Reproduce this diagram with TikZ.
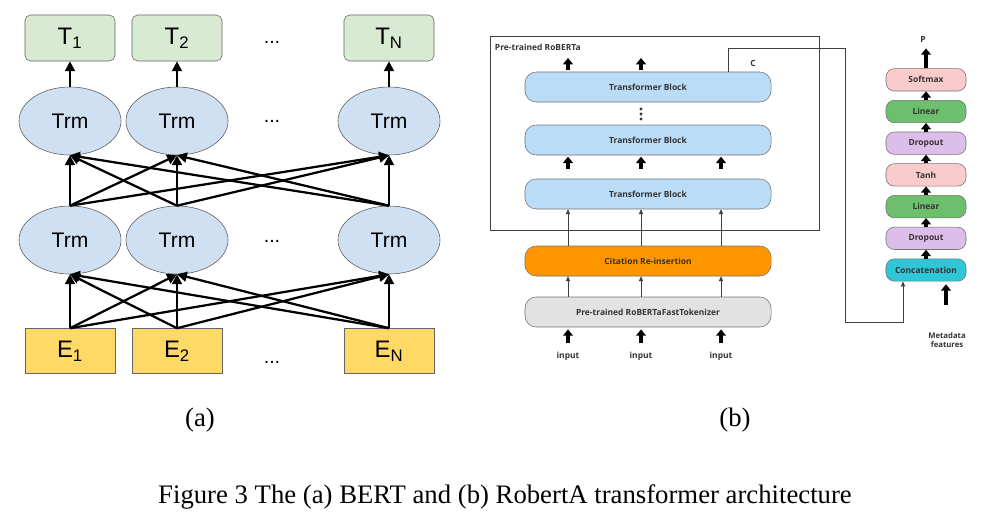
\documentclass[tikz,border=0pt]{standalone}
\usepackage{xcolor}
\usepackage{fontspec}
\setmainfont{Liberation Serif}
\newfontfamily\arialfont{Liberation Sans}
\newfontfamily\osfont{Open Sans}
\usepackage{tikz}
\usetikzlibrary{positioning, shapes, calc, arrows.meta}

\definecolor{tgreen}{HTML}{D9EAD3}
\definecolor{trmblue}{HTML}{CFE0F3}
\definecolor{eyellow}{HTML}{FFD966}
\definecolor{tbblue}{HTML}{BBDCF7}
\definecolor{corange}{HTML}{FF9600}
\definecolor{tokgray}{HTML}{E2E2E2}
\definecolor{cpink}{HTML}{F9CBCB}
\definecolor{cgreen}{HTML}{6DBF6D}
\definecolor{cpurple}{HTML}{DDBDEA}
\definecolor{ccyan}{HTML}{2FC6D8}

\tikzset{
	tbox/.style={draw=black!60, fill=tgreen, rounded corners=4pt, minimum width=2.25cm, minimum height=1.15cm, font=\arialfont\fontsize{17}{17}\selectfont},
	trm/.style={ellipse, draw=black!65, fill=trmblue, minimum width=2.55cm, minimum height=1.7cm, inner sep=0pt, font=\arialfont\fontsize{15}{15}\selectfont},
	ebox/.style={draw=black!60, fill=eyellow, minimum width=2.25cm, minimum height=1.125cm, font=\arialfont\fontsize{17}{17}\selectfont},
	bigarrow/.style={-{Triangle[length=7pt, width=7pt]}, line width=1.6pt},
	tblock/.style={draw=black!55, fill=tbblue, rounded corners=8pt, minimum width=6.15cm, minimum height=0.75cm, text=black!80, font=\osfont\bfseries\fontsize{6}{7}\selectfont},
	hbox/.style={draw=black!55, rounded corners=6pt, minimum width=2cm, minimum height=0.56cm, inner xsep=1pt, text=black!80, font=\osfont\bfseries\fontsize{6}{7}\selectfont},
	fatup/.style={-{Triangle[length=4.5pt, width=7pt]}, line width=2.2pt},
	thinup/.style={-{Triangle[length=3.5pt, width=3pt]}, line width=0.5pt, draw=black!75},
	small/.style={text=black!80, font=\osfont\bfseries\fontsize{6}{7}\selectfont},
	caption/.style={font=\fontsize{19}{19}\selectfont}
}

\begin{document}
\begin{tikzpicture}[x=0.025cm, y=-0.025cm]

	\useasboundingbox (0,0) rectangle (988,527);

	\foreach \i/\x/\s in {1/70/1, 2/177/2, 3/389/N}
	{
	\node [tbox] (t\i) at (\x,38) {T\textsubscript{\s}};
	\node [trm] (u\i) at (\x,121) {Trm};
	\node [trm] (l\i) at (\x,240) {Trm};
	\node [ebox] (e\i) at (\x,351) {E\textsubscript{\s}};
	\draw [bigarrow] (u\i.north) -- (t\i.south);
	}
	\foreach \i in {1,2,3}
	\foreach \j in {1,2,3}
	{
	\draw [bigarrow] (l\i.north) -- (u\j.south);
	\draw [bigarrow] (e\i.north) -- (l\j.south);
	}
	\foreach \y [count=\n] in {42,121,241,362}
	\node [font=\arialfont\fontsize{14}{14}\selectfont] (dots\n) at (272,\y) {...};

	\node [draw=black!75, line width=0.6pt, minimum width=8.225cm, minimum height=4.85cm] (rob) at (654.5,133) {};
	\node [small, anchor=west] (robl) at (490,47) {Pre-trained RoBERTa};
	\foreach \k/\y in {1/87, 2/140, 3/194}
	\node [tblock] (tb\k) at (648,\y) {Transformer Block};
	\node [tblock, fill=corange] (cit) at (648,261) {Citation Re-insertion};
	\node [tblock, fill=tokgray] (tok) at (648,312) {Pre-trained RoBERTaFastTokenizer};
	\foreach \d in {109,114,119}
	\fill [black!80] (641,\d) circle (1.6);
	\node [small] (clab) at (753,63) {C};

	\foreach \i/\x in {1/568, 2/641, 3/721}
	{
	\coordinate (c\i) at (\x,0);
	\coordinate (ia\i) at (\x,343);
	\coordinate (oa\i) at (\x,58);
	\node [small] (in\i) at (\x,356) {input};
	\draw [fatup, shorten >=1.5pt] (ia\i) -- (tok.south -| c\i);
	\draw [thinup] (tok.north -| c\i) -- (cit.south -| c\i);
	\draw [thinup] (cit.north -| c\i) -- (tb3.south -| c\i);
	\draw [fatup, shorten <=7pt, shorten >=1pt] (tb3.north -| c\i) -- (tb2.south -| c\i);
	}
	\foreach \i in {1,2}
	\draw [fatup, shorten <=1.5pt] (tb1.north -| c\i) -- (oa\i);

	\foreach \k/\t/\c in {0/Concatenation/ccyan, 1/Dropout/cpurple, 2/Linear/cgreen, 3/Tanh/cpink, 4/Dropout/cpurple, 5/Linear/cgreen, 6/Softmax/cpink}
	\node [hbox, fill=\c] (h\k) at (926,270-31.7*\k) {\t};
	\foreach \k [count=\n from 1] in {0,...,5}
	\draw [fatup] (h\k.north) -- (h\n.south);
	\node [small] (p) at (923,39) {P};
	\draw [fatup, shorten >=1pt] (h6.north) -- (h6.north |- p.south);
	\node [small, align=center, font=\osfont\bfseries\fontsize{5.5}{6.5}\selectfont] (meta) at (947,340) {Metadata\\features};
	\coordinate (mt) at (946,305);
	\draw [fatup, shorten >=2pt] (mt) -- (h0.south -| mt);

	\coordinate (cc) at (728,48);
	\coordinate (cr) at (845,322);
	\draw [thinup] (tb1.north -| cc) -- (cc) -| (cr) -| ($(h0.south)+(-23,0)$);

	\node [caption] (capa) at (200,420) {(a)};
	\node [caption] (capb) at (735,420) {(b)};
	\node [caption] (fig) at (505,497) {Figure 3 The (a) BERT and (b) RobertA transformer architecture};

\end{tikzpicture}
\end{document}
